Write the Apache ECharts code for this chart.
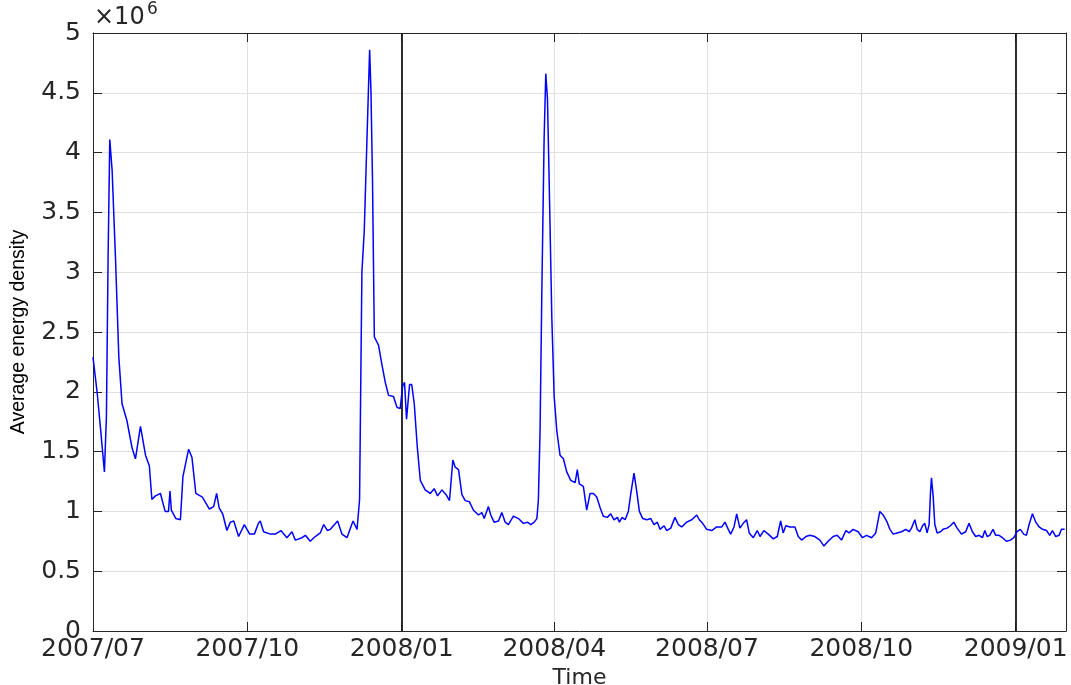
<!DOCTYPE html>
<html>
<head>
<meta charset="utf-8">
<script src="https://cdn.jsdelivr.net/npm/echarts@6/dist/echarts.min.js"></script>
<style>
  html, body { margin: 0; padding: 0; background: #ffffff; }
  #chart { width: 1071px; height: 685px; }
</style>
</head>
<body>
<div id="chart"></div>
<script>
// ---- data ----
const startDate = [2007, 6, 1];            // 2007-07-01 (month is 0-based)
const endDate = [2009, 0, 31];             // right end of the axis
const markerDates = [[2008, 0, 1], [2009, 0, 1]]; // black vertical lines
const yTicks = [0, 0.5, 1, 1.5, 2, 2.5, 3, 3.5, 4, 4.5, 5]; // ×10^6
const yAxisTitle = 'Average energy density';
const xAxisTitle = 'Time';

// days since 2007-07-01
const daysSinceStart = [
  0, 1, 2.5, 4.5, 6.8, 8, 9, 10, 11.4, 13.4,
  15.4, 17.3, 20.2, 23.3, 25.3, 28.3, 31.3, 33.6, 35.1, 37.2,
  40.2, 43, 45, 45.9, 46.7, 49.4, 52.1, 53.6, 57, 59,
  61.3, 65.2, 69.4, 71.9, 73.7, 75.2, 77.3, 79.8, 81.9, 83.9,
  86.8, 90.2, 93.4, 96.2, 98.6, 99.7, 101.7, 105.7, 108.7, 112,
  115.6, 118.6, 120.6, 124.6, 126.6, 129.5, 132.5, 135.5, 137.5, 139.8,
  141.5, 145.8, 148.4, 151.4, 155, 157.4, 158.9, 159.7, 160.3, 161.7,
  163.3, 164.9, 165.7, 166.6, 167.7, 169.1, 170.2, 172.2, 174.2, 176.2,
  179.1, 181.2, 183.1, 184.6, 185.7, 186.9, 188.7, 190, 191.5, 193.3,
  195.1, 198, 201, 203.4, 205.4, 208, 210.5, 212.5, 214.5, 215.9,
  217.9, 219.9, 221.9, 224.4, 226.8, 229.8, 231.8, 233.2, 235.7, 237.1,
  239.1, 241.7, 243.7, 245.7, 247.6, 250.6, 253.6, 256.6, 259, 261,
  263, 264.6, 265.5, 266.5, 267.5, 268.9, 269.9, 270.9, 271.9, 273.5,
  274.9, 276.5, 278.4, 280.4, 282.4, 284.8, 287.4, 288.7, 289.9, 292.3,
  294.3, 296.3, 298.3, 300.3, 302.3, 304.2, 306.6, 308.6, 310.6, 312.6,
  313.8, 315.4, 317.2, 319.1, 320.6, 322.5, 324.1, 325.7, 327.7, 330.1,
  332.5, 334.4, 336.4, 338, 340.4, 342, 344.4, 346.9, 348.9, 350.9,
  353.9, 356.9, 359.9, 361.4, 363.4, 365.8, 368.8, 371.8, 374.8, 376.7,
  378.7, 380.1, 382.1, 383.7, 385.6, 387.6, 389.6, 391.2, 393.6, 396,
  397.6, 399.9, 402.5, 405.5, 407.9, 409.9, 411.4, 413, 415.4, 418.4,
  420.4, 422.4, 425, 427.3, 430.3, 433.3, 435.7, 438.2, 441.2, 443.6,
  446.2, 448.8, 450.7, 453.1, 456.1, 458.7, 461.1, 464.1, 466.6, 469,
  471, 473.4, 475, 477, 479.3, 482, 484.5, 486.5, 487.9, 489.9,
  491.3, 492.9, 494.5, 495.8, 497.2, 498.4, 499.2, 499.8, 500.8, 501.8,
  503.2, 505.2, 506.7, 509.1, 511.1, 513.1, 515.1, 517.7, 520.2, 522.2,
  524.2, 526.2, 528.2, 530.2, 531.6, 533, 534.5, 536.5, 538.1, 540.1,
  542.1, 544.5, 546.9, 548.9, 550.8, 552.8, 554.8, 556.4, 558, 560,
  562, 564, 566, 568.4, 570.3, 571.9, 573.9, 575.9, 577.3, 579.2
];

// average energy density, in units of 10^6
const energyDensityE6 = [
  2.29, 2.29, 1.99, 1.69, 1.33, 1.79, 3.12, 4.11, 3.85, 3.12,
  2.29, 1.90, 1.76, 1.53, 1.44, 1.71, 1.47, 1.38, 1.10, 1.13,
  1.15, 1.00, 1.00, 1.17, 1.01, 0.94, 0.93, 1.29, 1.52, 1.45,
  1.15, 1.12, 1.02, 1.04, 1.15, 1.03, 0.98, 0.84, 0.91, 0.92,
  0.79, 0.89, 0.81, 0.81, 0.90, 0.92, 0.83, 0.81, 0.81, 0.84,
  0.78, 0.83, 0.76, 0.78, 0.80, 0.75, 0.79, 0.82, 0.89, 0.84,
  0.85, 0.92, 0.81, 0.78, 0.92, 0.85, 1.10, 2.20, 3.00, 3.35,
  4.11, 4.86, 4.51, 3.78, 2.46, 2.42, 2.39, 2.23, 2.08, 1.97,
  1.96, 1.87, 1.86, 2.05, 2.08, 1.77, 2.06, 2.06, 1.90, 1.54,
  1.26, 1.18, 1.15, 1.19, 1.13, 1.18, 1.14, 1.09, 1.43, 1.37,
  1.35, 1.14, 1.09, 1.08, 1.01, 0.97, 0.99, 0.94, 1.04, 0.97,
  0.91, 0.92, 0.99, 0.91, 0.89, 0.96, 0.94, 0.90, 0.91, 0.89,
  0.91, 0.94, 1.10, 1.68, 2.79, 4.11, 4.66, 4.45, 3.78, 2.62,
  1.96, 1.67, 1.47, 1.44, 1.33, 1.26, 1.24, 1.35, 1.23, 1.21,
  1.01, 1.15, 1.15, 1.12, 1.03, 0.96, 0.95, 0.98, 0.93, 0.95,
  0.91, 0.95, 0.93, 1.00, 1.15, 1.32, 1.17, 1.00, 0.94, 0.93,
  0.94, 0.89, 0.91, 0.85, 0.88, 0.84, 0.86, 0.95, 0.89, 0.87,
  0.91, 0.93, 0.97, 0.93, 0.90, 0.85, 0.84, 0.87, 0.87, 0.91,
  0.85, 0.81, 0.87, 0.98, 0.86, 0.90, 0.93, 0.82, 0.78, 0.84,
  0.79, 0.84, 0.81, 0.77, 0.79, 0.92, 0.82, 0.88, 0.87, 0.87,
  0.79, 0.76, 0.79, 0.80, 0.79, 0.76, 0.71, 0.75, 0.79, 0.80,
  0.76, 0.84, 0.82, 0.85, 0.83, 0.78, 0.80, 0.78, 0.82, 1.00,
  0.97, 0.91, 0.85, 0.81, 0.82, 0.83, 0.85, 0.83, 0.86, 0.93,
  0.85, 0.83, 0.88, 0.90, 0.82, 0.89, 1.15, 1.28, 1.13, 0.89,
  0.82, 0.83, 0.85, 0.86, 0.88, 0.91, 0.86, 0.81, 0.83, 0.90,
  0.83, 0.79, 0.80, 0.78, 0.84, 0.79, 0.80, 0.85, 0.80, 0.80,
  0.78, 0.75, 0.76, 0.78, 0.83, 0.85, 0.81, 0.80, 0.89, 0.98,
  0.91, 0.87, 0.85, 0.84, 0.80, 0.84, 0.79, 0.80, 0.85, 0.85
];

// ---- build ----
const DAY = 86400000;
const t0 = new Date(startDate[0], startDate[1], startDate[2]).getTime();
const tEnd = new Date(endDate[0], endDate[1], endDate[2]).getTime();
const seriesData = daysSinceStart.map((d, i) => [t0 + d * DAY, energyDensityE6[i]]);
const markerTimes = markerDates.map(d => new Date(d[0], d[1], d[2]).getTime());

const axisColor = '#262626';
const gridColor = '#e0e0e0';
const fontMain = 'DejaVu Sans';

const chart = echarts.init(document.getElementById('chart'), null, { renderer: 'canvas' });

function fmtDate(v) {
  const d = new Date(v);
  const m = d.getMonth() + 1;
  return d.getFullYear() + '/' + (m < 10 ? '0' + m : m);
}

const xCommon = {
  type: 'time',
  min: t0,
  max: tEnd,
  minInterval: 80 * DAY,
  maxInterval: 100 * DAY,
  axisLine: { show: true, onZero: false, lineStyle: { color: axisColor, width: 1 } },
  axisTick: { show: true, inside: true, length: 9, lineStyle: { color: axisColor } }
};
const yCommon = {
  type: 'value',
  min: yTicks[0],
  max: yTicks[yTicks.length - 1],
  interval: yTicks[1] - yTicks[0],
  axisLine: { show: true, lineStyle: { color: axisColor, width: 1 } },
  axisTick: { show: true, inside: true, length: 9, lineStyle: { color: axisColor } }
};

const option = {
  animation: false,
  backgroundColor: '#ffffff',
  grid: { left: 93, right: 5, top: 33, bottom: 54, containLabel: false, outerBoundsMode: 'none' },
  xAxis: [
    Object.assign({}, xCommon, {
      position: 'bottom',
      name: xAxisTitle,
      nameLocation: 'middle',
      nameGap: 34,
      nameTextStyle: { fontFamily: fontMain, fontSize: 22, color: axisColor },
      axisLabel: {
        show: true, margin: 6, fontFamily: fontMain, fontSize: 25, color: axisColor,
        formatter: fmtDate, hideOverlap: false
      },
      splitLine: { show: true, lineStyle: { color: gridColor, width: 1 } }
    }),
    Object.assign({}, xCommon, {
      position: 'top',
      axisLabel: { show: false },
      splitLine: { show: false }
    })
  ],
  yAxis: [
    Object.assign({}, yCommon, {
      position: 'left',
      name: yAxisTitle,
      nameLocation: 'middle',
      nameGap: 64,
      nameRotate: 90,
      nameTextStyle: { fontFamily: 'Liberation Sans', fontSize: 19.5, color: '#000000' },
      axisLabel: {
        show: true, margin: 12, fontFamily: fontMain, fontSize: 25, color: axisColor,
        formatter: v => String(Math.round(v * 10) / 10)
      },
      splitLine: { show: true, lineStyle: { color: gridColor, width: 1 } }
    }),
    Object.assign({}, yCommon, {
      position: 'right',
      axisLabel: { show: false },
      splitLine: { show: false }
    })
  ],
  graphic: [
    { type: 'text', left: 94, top: 6,
      style: { text: '×10', fontFamily: fontMain, fontSize: 24, fill: axisColor } },
    { type: 'text', left: 147, top: 1,
      style: { text: '6', fontFamily: fontMain, fontSize: 17, fill: axisColor } }
  ],
  series: [
    {
      type: 'line',
      xAxisIndex: 0,
      yAxisIndex: 0,
      data: seriesData,
      showSymbol: false,
      symbol: 'none',
      lineStyle: { color: '#0000ff', width: 1.5 },
      itemStyle: { color: '#0000ff' },
      z: 3,
      markLine: {
        silent: true,
        symbol: ['none', 'none'],
        label: { show: false },
        lineStyle: { color: '#1a1a1a', width: 1.8, type: 'solid' },
        data: markerTimes.map(t => ({ xAxis: t })),
        z: 2
      }
    }
  ]
};

chart.setOption(option);
</script>
</body>
</html>
